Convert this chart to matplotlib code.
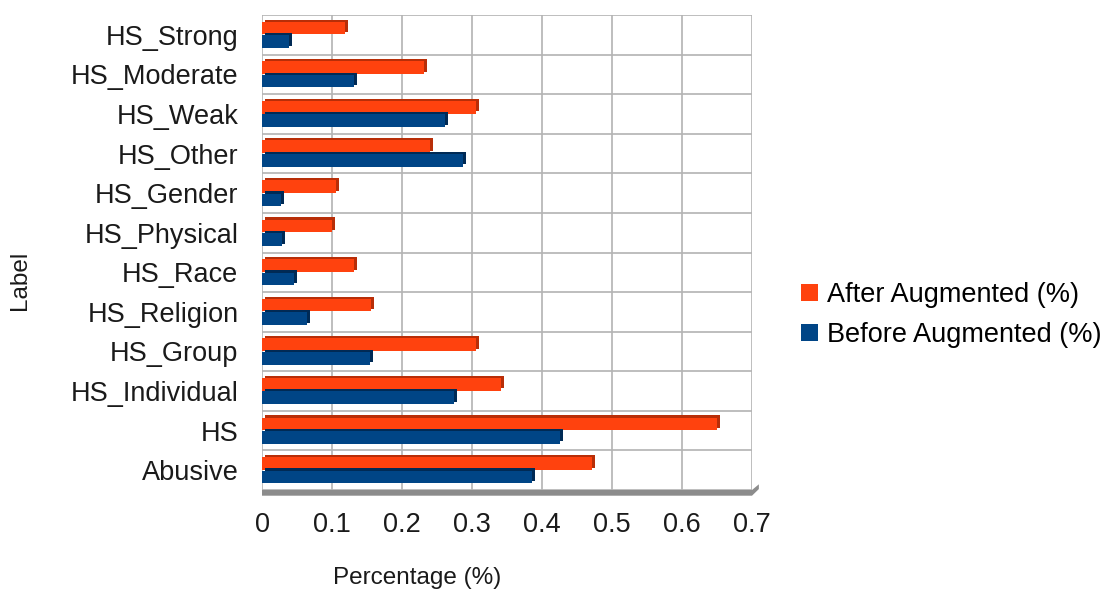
import numpy as np
import matplotlib.pyplot as plt
import matplotlib.patheffects as pe
from matplotlib.patches import Polygon, Patch

plt.rcParams['font.family'] = ['Liberation Sans', 'DejaVu Sans']

# label distribution, listed top to bottom as shown on the chart
labels = ['HS_Strong', 'HS_Moderate', 'HS_Weak', 'HS_Other', 'HS_Gender',
          'HS_Physical', 'HS_Race', 'HS_Religion', 'HS_Group',
          'HS_Individual', 'HS', 'Abusive']
after_aug = [0.119, 0.231, 0.305, 0.240, 0.105, 0.100, 0.132, 0.155,
             0.306, 0.342, 0.650, 0.472]
before_aug = [0.039, 0.132, 0.261, 0.287, 0.027, 0.028, 0.046, 0.064,
              0.154, 0.274, 0.426, 0.386]

orange = '#ff420e'
blue = '#004586'

fig = plt.figure(figsize=(11.11, 5.95), dpi=100)
ax = fig.add_axes([262 / 1111, 1 - 490 / 595, 490 / 1111, 475 / 595])

y = np.arange(len(labels))[::-1]
h = 0.32
off = 0.17

# darker extrusion behind each bar gives the 3D look
b1 = ax.barh(y + off, after_aug, height=h, color=orange, zorder=3)
b2 = ax.barh(y - off, before_aug, height=h, color=blue, zorder=3)
for bars, dark in [(b1, '#b82e08'), (b2, '#002a55')]:
    for r in bars:
        r.set_path_effects([pe.SimplePatchShadow(offset=(2.2, 1.6),
                                                 shadow_rgbFace=dark, alpha=1),
                            pe.Normal()])

ax.set_xlim(0, 0.7)
ax.set_ylim(-0.5, len(labels) - 0.5)
ax.set_xticks(np.arange(0, 0.71, 0.1))
ax.set_xticklabels(['0', '0.1', '0.2', '0.3', '0.4', '0.5', '0.6', '0.7'])
ax.set_yticks(y)
ax.set_yticklabels(labels)
ax.tick_params(axis='both', length=0, labelsize=19.5, colors='#1a1a1a')
ax.tick_params(axis='y', pad=17)
ax.tick_params(axis='x', pad=16)

# back wall grid
for xv in np.arange(0.1, 0.71, 0.1):
    ax.axvline(xv, color='#b3b3b3', lw=1.2, zorder=1)
for yv in np.arange(-0.5, len(labels), 1.0):
    ax.axhline(yv, color='#b3b3b3', lw=1.2, zorder=1)
for s in ax.spines.values():
    s.set_visible(False)
ax.axvline(0, color='#b3b3b3', lw=1.2, zorder=1)

# grey floor strip under the bars
floor = Polygon([(0, 0), (1.0, 0), (1.014, 0.012), (1.014, 0.002),
                 (1.0, -0.012), (0, -0.012)], closed=True,
                transform=ax.transAxes, facecolor='#8c8c8c',
                edgecolor='none', clip_on=False, zorder=2)
ax.add_patch(floor)

fig.text(417 / 1111, 1 - 578 / 595, 'Percentage (%)', fontsize=17.5,
         ha='center', va='center', color='#1a1a1a')
fig.text(20 / 1111, 1 - 280 / 595, 'Label', fontsize=17.5, rotation=90,
         ha='center', va='center', color='#1a1a1a')

handles = [Patch(facecolor=orange, label='After Augmented (%)'),
           Patch(facecolor=blue, label='Before Augmented (%)')]
fig.legend(handles=handles, loc='center left',
           bbox_to_anchor=(777 / 1111, 1 - 315 / 595), frameon=False,
           fontsize=19.5, handlelength=0.6, handleheight=0.6,
           handletextpad=0.35, labelspacing=0.5)

fig.savefig('out.png', dpi=100)
